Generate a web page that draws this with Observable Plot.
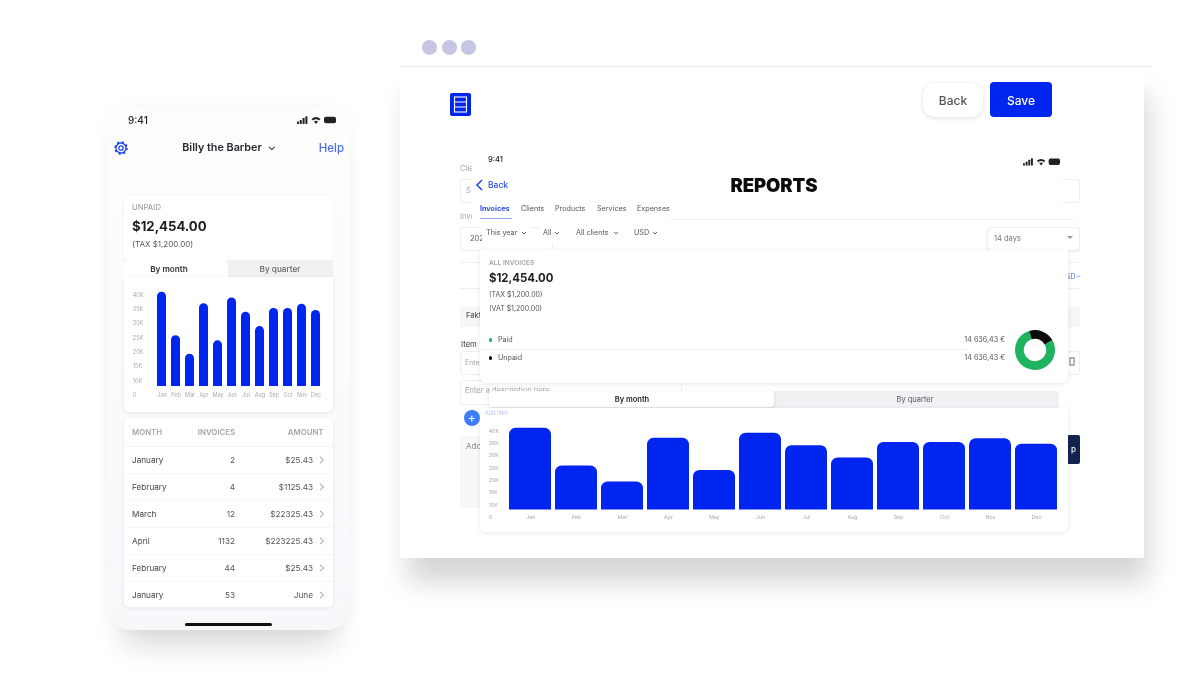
<!DOCTYPE html>
<html>
<head>
<meta charset="utf-8">
<script src="https://cdn.jsdelivr.net/npm/d3@7"></script>
<script src="https://cdn.jsdelivr.net/npm/@observablehq/plot@0.6"></script>
<style>
html,body{margin:0;padding:0;background:#fff;overflow:hidden}
#stage{position:relative;width:1200px;height:675px;overflow:hidden;font-family:Inter,"Noto Sans",sans-serif;filter:blur(.45px)}
#stage div,#stage span.t{position:absolute}
.t{white-space:nowrap;line-height:1}
svg{display:block;background:transparent!important}
</style>
</head>
<body>
<div id="stage"></div>
<script>
// ---- data ----
const months = ["Jan","Feb","Mar","Apr","May","Jun","Jul","Aug","Sep","Oct","Nov","Dec"];
const monthlyTotals = [41,25.8,19.3,37,24,39,34,29,35.3,35.3,36.8,34.6];
const tickValues = [5,10,15,20,25,30,35,40];
const tickLabels = ["0","10K","15K","20K","25K","30K","35K","40K"];
const barFloor = 8;
const statusNames = ["Paid","Unpaid"];
const statusShares = [78.6,21.4];
const statusAmounts = ["14 636,43 €","14 636,43 €"];
const tableMonths = ["January","February","March","April","February","January"];
const tableInvoices = ["2","4","12","1132","44","53"];
const tableAmounts = ["$25.43","$1125.43","$22325.43","$223225.43","$25.43","June"];
const reportTabs = ["Invoices","Clients","Products","Services","Expenses"];
const reportFilters = ["This year","All","All clients","USD"];

const BLUE="#0025ee", GREEN="#1fb25f", INK="#1d1d22", MID="#55565c", SOFT="#a4a5ab";
const stage=document.getElementById("stage");
function B(x,y,w,h,css=""){const d=document.createElement("div");d.style.cssText=`left:${x}px;top:${y}px;width:${w}px;height:${h}px;${css}`;stage.appendChild(d);return d}
function T(x,y,s,size,color=MID,weight=400,anchor="l",extra=""){const d=document.createElement("span");d.className="t";d.textContent=s;
 const tx=anchor==="m"?"-50%":anchor==="r"?"-100%":"0";
 d.style.cssText=`left:${x}px;top:${y}px;font-size:${size}px;color:${color};font-weight:${weight};transform:translate(${tx},-50%);${extra}`;stage.appendChild(d);return d}
function S(x,y,w,h,inner){const d=B(x,y,w,h);d.innerHTML=`<svg width="${w}" height="${h}" viewBox="0 0 ${w} ${h}" fill="none">${inner}</svg>`;return d}
function chev(x,y,color=MID,s=2.2,sw=1){S(x-s-1,y-s-1,2*s+2,2*s+2,`<path d="M1 ${s} L${s+1} ${2*s} L${2*s+1} ${s}" stroke="${color}" stroke-width="${sw}"/>`)}
function statusIcons(x,y,k){S(x,y-5*k,42*k,10*k,`<g transform="scale(${k})" fill="#222">
 <rect x="0" y="6.5" width="2" height="2.5" rx=".4"/><rect x="2.8" y="5" width="2" height="4" rx=".4"/><rect x="5.6" y="3" width="2" height="6" rx=".4"/><rect x="8.4" y="1.2" width="2" height="7.8" rx=".4"/>
 <path d="M14.5 4 Q19 0 23.5 4 L22 5.6 Q19 3 16 5.6Z M17 6.4 Q19 5 21 6.4 L19 9Z"/>
 <rect x="27" y="1.7" width="12" height="6.6" rx="2"/></g>`)}

function barChart({left,top,width,height,ml,mr,y0,y40,labelX,font,r,pad}){
 const rows=months.map((month,i)=>({month,total:monthlyTotals[i]}));
 const pl=Plot.plot({width,height,marginLeft:ml,marginRight:mr,marginTop:0,marginBottom:height-y0,
  style:{background:"transparent",fontFamily:"Inter",fontSize:font+"px",color:"#a9aab0"},
  x:{domain:months,paddingInner:pad,paddingOuter:0,axis:null},
  y:{domain:[5,40],range:[y0,y40],axis:null},
  marks:[
   Plot.barY(rows,{x:"month",y1:barFloor,y2:"total",fill:BLUE,ry1:r}),
   Plot.axisX({tickSize:0,tickPadding:0,dy:-font*.45,fill:"#a9aab0",label:null}),
   Plot.text(tickValues,{y:d=>d,frameAnchor:"left",text:(d,i)=>tickLabels[i],textAnchor:"start",dx:labelX-ml,fill:"#a9aab0"})
  ]});
 const d=B(left,top,width,height);d.appendChild(pl);return pl;
}

// ---- desktop window ----
B(400,66,744,492,"background:#fff;box-shadow:6px 26px 26px -2px rgba(0,0,0,.17)");
B(400,66,752,1,"background:#ececee");
[429.7,449.5,468.7].forEach(x=>B(x-7.3,47.3-7.3,14.6,14.6,"background:#c6c6e4;border-radius:50%"));
S(450,93,21,23,`<rect x="0" y="0" width="21" height="23" rx="2" fill="${BLUE}"/><g stroke="#fff" stroke-width="1.1" fill="none"><rect x="4.5" y="4" width="12" height="15"/><path d="M4.5 9H16.5M4.5 14H16.5"/></g>`);
B(923,83,60,34,"background:#fff;border-radius:12px;box-shadow:0 1px 5px rgba(0,0,0,.13)");
T(953,100.5,"Back",12,MID,500,"m");
B(990,82,62,35,`background:${BLUE};border-radius:4px`);
T(1021,100.5,"Save",12,"#fff",500,"m");

// underlying form, mostly hidden by the report panel
const BOX="background:#fff;border:1px solid #eeeef0;border-radius:3px;box-sizing:border-box;";
T(460,169,"Client",7.5,SOFT);
B(460,179,620,24,BOX);T(466,191,"S",7.5,SOFT);
T(460,217,"Invoice",7.5,SOFT);
B(460,227,93,24,BOX);T(470,239,"2021",7.5,MID);
B(460,262,620,1,"background:#f0f0f2");
B(460,288,620,1,"background:#f0f0f2");
T(1075.5,276,"USD",7,"#4a78ee",400,"r");chev(1078.5,276,"#4a78ee",1.5,.8);
B(460,307,620,20,"background:#f6f6f7");T(466,316,"Faktura",7.5,MID,500);
T(461,345,"Item",7.5,MID,500);
B(460,351,620,24,BOX);T(465,362,"Enter",7,SOFT);
S(1068,356,8,10,`<path d="M1 2H7M2 3V9H6V3" stroke="#999" stroke-width="1.4"/>`);
B(460,380,222,25,BOX);T(465,391,"Enter a description here",7.5,SOFT);
B(460,436,30,72,"background:#f8f8f9");T(466,446,"Add",8,"#888");
B(1067,435,13,29,"background:#13234f;border-radius:2px");T(1076,449,"p",8,"#fff",500,"r");

// report panel
B(472,152,590,70,"background:#fff");
B(670,219,405,1,"background:#f3f3f5");
T(488,160,"9:41",7.5,INK,500);
statusIcons(1023,161.5,.95);
S(475,179,9,12,`<path d="M7 1L2 6L7 11" stroke="#2a4fe0" stroke-width="1.6"/>`);
T(488,185,"Back",8.5,"#2a4fe0",500);
T(774,185,"REPORTS",18.5,"#0c0c0e",900,"m","font-family:Inter;letter-spacing:-.1px");
const tabX=[480,521,555,597,637];
reportTabs.forEach((s,i)=>T(tabX[i],209,s,7.2,i?MID:"#2a4fe0",i?400:700));
B(480,218,32,1,"background:#8d9df0");
const chipX=[482,539,572,630],chipW=[49,29,52,36],chevX=[524,557,616,655];
reportFilters.forEach((s,i)=>{B(chipX[i],224,chipW[i],18,"background:#fff");T(chipX[i]+4,233,s,7.2,MID);chev(chevX[i],233,MID,2,.9)});
B(987,227,93,24,BOX+"box-shadow:0 1px 2px rgba(0,0,0,.07)");T(994,239,"14 days",7.5,"#777");
S(1067,236,6,4,`<path d="M0 0H6L3 3Z" fill="#999"/>`);

B(480,250,588,133,"background:#fff;border-radius:0 0 6px 6px;box-shadow:0 1px 5px rgba(30,30,60,.1)");
T(489,263,"ALL INVOICES",6.6,SOFT,600);
T(489,279,"$12,454.00",11.4,INK,700);
T(489,294,"(TAX $1,200.00)",7,MID);
T(489,307.5,"(VAT $1,200.00)",7,MID);
B(480,349,490,1,"background:#f3f3f5");
const legendY=[340,358],legendC=[GREEN,"#0c0c0e"];
statusNames.forEach((s,i)=>{
 B(488.5,legendY[i]-1.8,3.6,3.6,`background:${legendC[i]};border-radius:50%`);
 T(498,legendY[i],s,7.2,MID);
 T(1005,legendY[i],statusAmounts[i],7.2,MID,400,"r");
});
// donut
{
 const pie=d3.pie().sort(null).startAngle(60*Math.PI/180).endAngle((360+60)*Math.PI/180);
 const arc=d3.arc().innerRadius(11.2).outerRadius(20);
 const color=d3.scaleOrdinal(statusNames,legendC);
 const donut=Plot.plot({width:44,height:44,margin:0,axis:null,style:{background:"transparent"},marks:[
  ()=>{const g=d3.create("svg:g").attr("transform","translate(22,22)");
   g.selectAll("path").data(pie(statusShares)).join("path").attr("d",arc).attr("fill",(d,i)=>color(statusNames[i]));
   return g.node()}
 ]});
 B(1013,328,44,44).appendChild(donut);
}

// monthly chart in the panel
B(770,391,289,17,"background:#f1f1f4;border-radius:4px");
T(915,399.5,"By quarter",7.5,MID,400,"m");
B(489,391,285,16,"background:#fff;border-radius:3px;box-shadow:0 1px 3px rgba(0,0,0,.16)");
T(632,399.5,"By month",7.5,INK,600,"m");
B(480,408,588,124,"background:#fff;border-radius:0 0 6px 6px;box-shadow:0 1px 5px rgba(30,30,60,.1)");
barChart({left:480,top:408,width:588,height:124,ml:28.7,mr:10.3,y0:109,y40:22.3,labelX:8.2,font:5.3,r:6.5,pad:.09});
B(463.5,409.5,16.6,16.6,"background:#3d7df5;border-radius:50%");
T(471.8,417.6,"+",12,"#fff",500,"m");
T(485,414,"Add item",5.5,"#b9c6f5");

// ---- phone ----
B(108,108,242,522,"background:linear-gradient(#fdfdfe,#fafafd 70%,#f6f8fa);border-radius:24px;box-shadow:0 30px 28px -14px rgba(0,0,0,.14),0 0 20px rgba(0,0,30,.045)");
T(128,119.5,"9:41",10,INK,500);
statusIcons(297,119.5,1);
S(114,141,14,14,`<circle cx="7" cy="7" r="2.2" stroke="#1f45e6" stroke-width="1.3"/><circle cx="7" cy="7" r="5" stroke="#1f45e6" stroke-width="1.3"/><circle cx="7" cy="7" r="6" stroke="#1f45e6" stroke-width="1.6" stroke-dasharray="2.2 2.5"/>`);
T(222,148,"Billy the Barber",10.8,"#2a2a30",600,"m");
chev(272,148,"#333",2.8,1.1);
T(344,148.5,"Help",11.5,"#4a6ee8",500,"r");

B(124,196,209,64,"background:#fff;border-radius:4px;box-shadow:0 0 4px rgba(30,30,60,.04)");
T(132,208,"UNPAID",7.7,SOFT,500);
T(132,227,"$12,454.00",13.2,INK,700);
T(132,244,"(TAX $1,200.00)",8,MID);
B(124,260,209,17,"background:#f1f1f4");
B(124,260,104,17,"background:#fff;border-radius:5px 5px 0 0");
T(169,269,"By month",8.2,"#333",600,"m");
T(280,269,"By quarter",8.2,"#666",500,"m");
B(124,277,209,135,"background:#fff;border-radius:0 0 5px 5px;box-shadow:0 1px 4px rgba(30,30,60,.1)");
barChart({left:124,top:277,width:209,height:135,ml:31.7,mr:11,y0:117.7,y40:17.6,labelX:8.3,font:5.5,r:4.6,pad:.346});

B(124,418,209,189,"background:#fff;border-radius:5px;box-shadow:0 1px 4px rgba(30,30,60,.08)");
T(132,433,"MONTH",7.8,SOFT,600);
T(235,433,"INVOICES",7.8,SOFT,600,"r");
T(323.5,433,"AMOUNT",7.8,SOFT,600,"r");
B(124,446,209,1,"background:#f3f3f5");
tableMonths.forEach((m,i)=>{
 const y=459.7+27*i;
 T(132,y,m,8.2,"#444");
 T(235,y,tableInvoices[i],8.2,"#555",400,"r");
 T(313,y,tableAmounts[i],8.2,"#555",400,"r");
 S(318.5,y-4,6,8,`<path d="M1 .8L4.5 4L1 7.2" stroke="#888" stroke-width=".9"/>`);
 if(i<5)B(124,y+13.3,209,1,"background:#f6f6f8");
});
B(185,622.5,87,3,"background:#111;border-radius:2px");
</script>
</body>
</html>
